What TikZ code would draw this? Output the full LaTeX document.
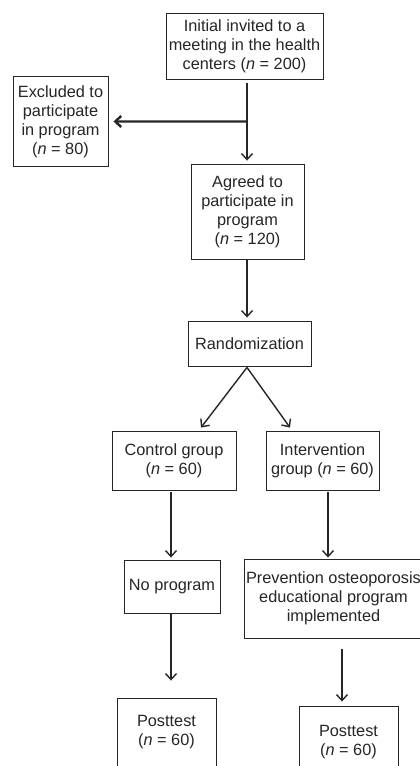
\documentclass[tikz,border=0pt]{standalone}
\usepackage{fontspec}
\setmainfont{Liberation Sans}
\usetikzlibrary{arrows.meta,calc}
\definecolor{ink}{HTML}{262626}
\begin{document}
\begin{tikzpicture}[x=1pt,y=-1pt,
 box/.style={draw=ink, line width=0.9pt, inner sep=0pt, align=center, text=ink, font=\fontsize{16.3}{19}\selectfont},
 arr/.style={draw=ink, line width=1.4pt, -{Straight Barb[length=6pt,width=11pt]}},
]
\useasboundingbox (0,0) rectangle (420,766);
\clip (0,0) rectangle (420,766);
\fill[white] (0,0) rectangle (420,766);
\node[box, minimum width=157pt, minimum height=66pt] (init) at (244.5,46) {Initial invited to a\\meeting in the health\\centers (\textit{n} = 200)};
\node[box, minimum width=95pt, minimum height=90pt] (excl) at (60.5,121.5) {Excluded to\\participate\\in program\\(\textit{n} = 80)};
\node[box, minimum width=113pt, minimum height=95pt] (agreed) at (247.5,211.5) {Agreed to\\participate in\\program\\(\textit{n} = 120)};
\node[box, minimum width=123pt, minimum height=45pt] (rand) at (249.5,343.5) {Randomization};
\node[box, minimum width=124pt, minimum height=59pt] (ctrl) at (174,460.5) {Control group\\(\textit{n} = 60)};
\node[box, minimum width=113pt, minimum height=59pt] (intv) at (322.5,460.5) {Intervention\\group (\textit{n} = 60)};
\node[box, minimum width=96pt, minimum height=53pt] (nop) at (172,586.5) {No program};
\node[box, minimum width=179pt, minimum height=79pt] (prev) at (333.5,598.5) {Prevention osteoporosis\\educational program\\implemented};
\node[box, minimum width=99pt, minimum height=68pt] (post1) at (166.5,732) {Posttest\\(\textit{n} = 60)};
\node[box, minimum width=99pt, minimum height=72pt] (post2) at (348.5,742) {Posttest\\(\textit{n} = 60)};

\coordinate (j) at ($(init.south)+(2.5,42)$);
\draw[arr] ($(init.south)+(2.5,4)$) -- ($(agreed.north)+(-0.5,-3)$);
\draw[arr, line width=2.4pt] (j) -- ($(excl.east)+(5,0)$);
\draw[arr] ($(agreed.south)+(-0.5,1)$) -- ($(rand.north)+(-2.5,-3)$);
\draw[arr] ($(rand.south)+(-2.5,1)$) -- ($(ctrl.north)+(27,-3)$);
\draw[arr] ($(rand.south)+(-2.5,1)$) -- ($(intv.north)+(-32.5,-3)$);
\draw[arr] ($(ctrl.south)+(-3,2)$) -- ($(nop.north)+(-1,-2)$);
\draw[arr] ($(intv.south)+(5.5,2)$) -- ($(prev.north)+(-5.5,-1)$);
\draw[arr] ($(nop.south)+(-1,1)$) -- ($(post1.north)+(4.5,-17)$);
\draw[arr] ($(prev.south)+(8.5,11)$) -- ($(post2.north)+(-6.5,-4)$);
\end{tikzpicture}
\end{document}
